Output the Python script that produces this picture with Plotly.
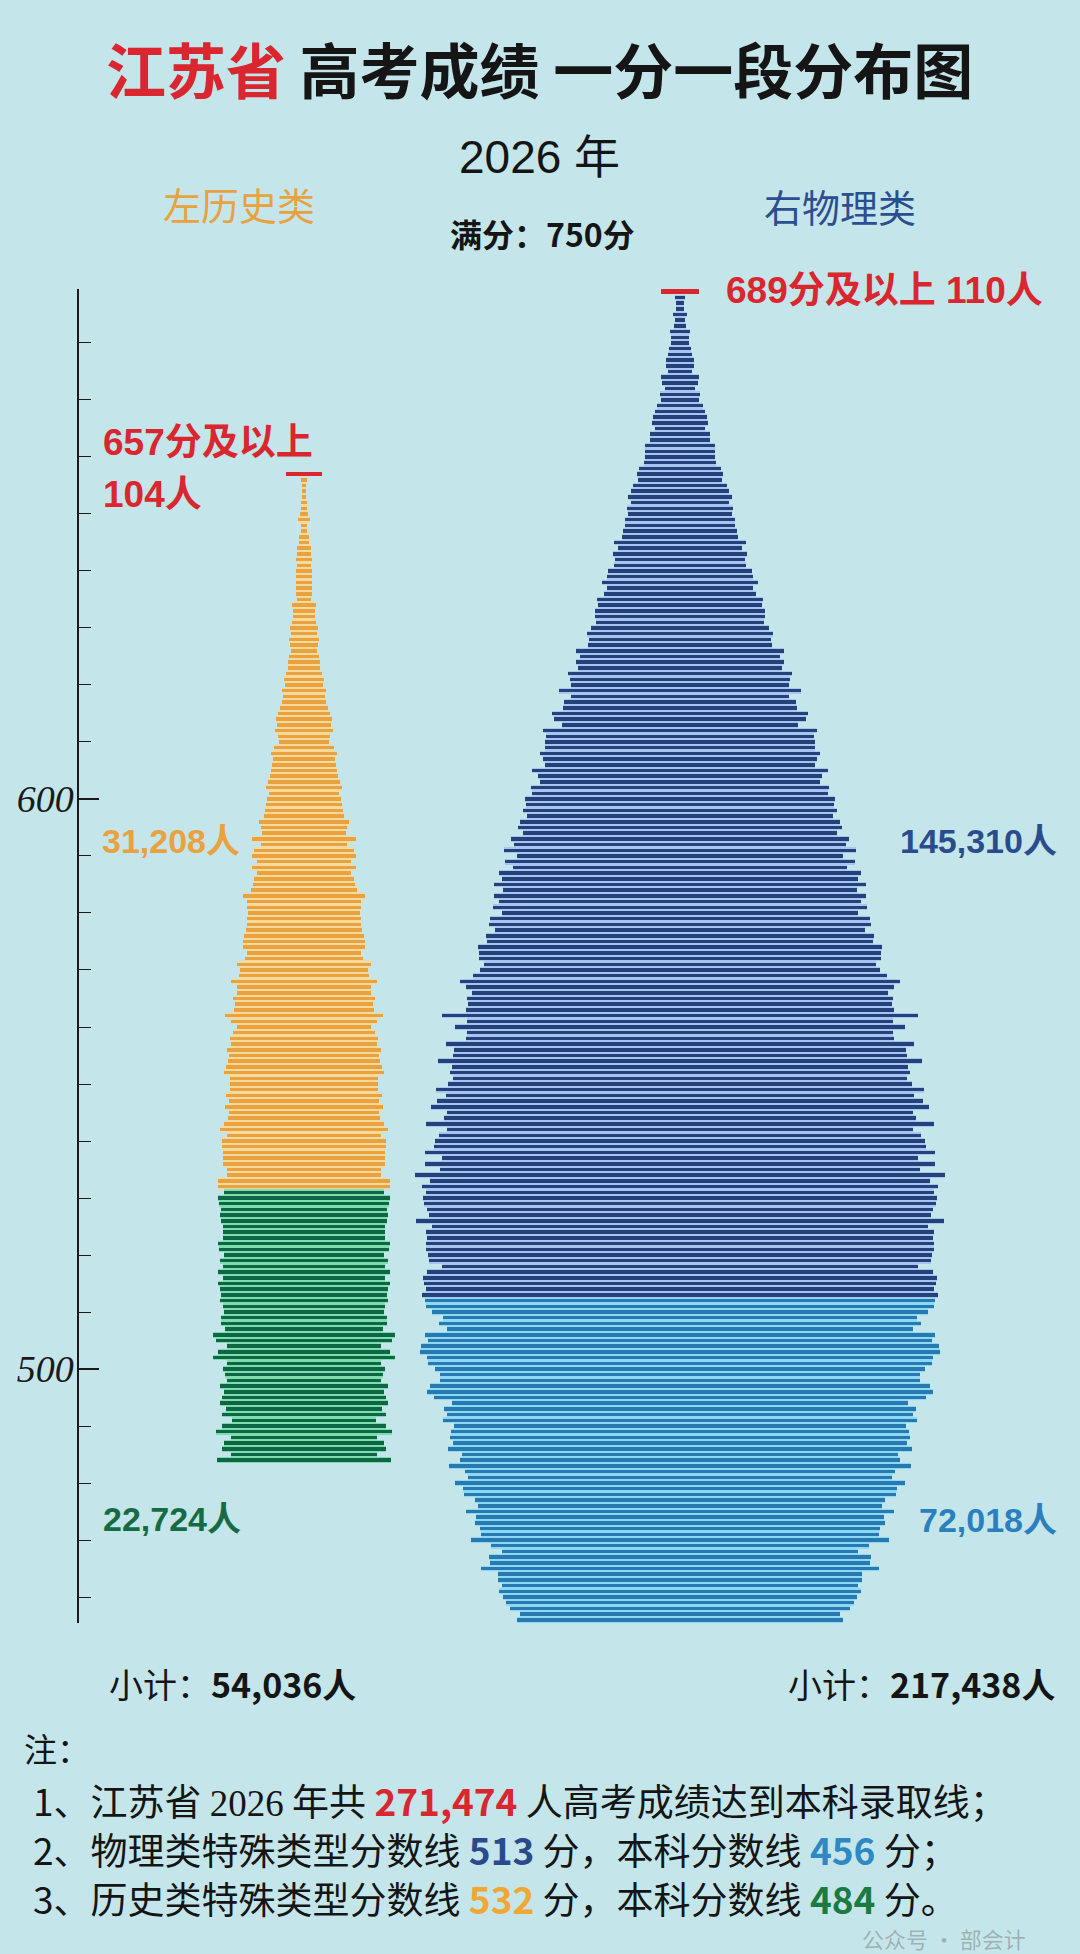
import plotly.graph_objects as go

# ---------------- data ----------------
# Physics track: 689分及以上 shown as red marker, bars from 688 down to 456
phys_top_score = 689
phys_top_count = 110
phys_high_scores = list(range(688, 512, -1))      # 688 .. 513  (dark blue, >= 特殊类型线 513)
phys_high_counts = [
    29, 21, 25, 39, 29, 33, 56, 54, 54, 62,
    68, 79, 83, 69, 112, 104, 85, 116, 112, 131,
    143, 154, 160, 146, 173, 175, 201, 204, 204, 210,
    239, 249, 243, 272, 281, 301, 283, 305, 302, 316,
    316, 328, 337, 383, 357, 386, 376, 380, 418, 422,
    449, 424, 438, 478, 474, 491, 491, 487, 516, 536,
    528, 530, 603, 580, 603, 591, 647, 638, 630, 701,
    632, 672, 676, 742, 727, 682, 794,
    775, 782, 782, 807, 792, 780, 854, 819, 809, 859,
    854, 896, 892, 909, 886, 925, 935, 906, 979, 958,
    1017, 940, 1013, 965, 1048, 1027, 1077, 1023, 1077, 1048,
    1081, 1027, 1096, 1104, 1071, 1121, 1116, 1166, 1162, 1162,
    1131, 1154, 1196, 1270, 1237, 1204, 1231, 1224, 1237, 1374,
    1233, 1299, 1233, 1237, 1354, 1305, 1310, 1399, 1320, 1329,
    1310, 1343, 1412, 1354, 1403, 1441, 1348, 1362, 1466, 1348,
    1393, 1418, 1422, 1476, 1376, 1476, 1387, 1530, 1447,
    1490, 1466, 1485, 1481, 1461, 1451, 1526, 1432, 1470, 1461,
    1470, 1470, 1457, 1451, 1374, 1461, 1485, 1481, 1466, 1490,
]
phys_low_scores = list(range(512, 455, -1))       # 512 .. 456  (light blue, 本科线 456)
phys_low_counts = [
    1476, 1470, 1435, 1368, 1393, 1348, 1476, 1457, 1495, 1505,
    1461, 1457, 1418, 1389, 1387, 1447, 1461, 1422, 1320, 1364,
    1348, 1370, 1306, 1324, 1328, 1310, 1343, 1262, 1270, 1333,
    1244, 1225, 1299, 1256, 1250, 1187, 1169, 1239, 1179, 1183,
    1158, 1148, 1208, 1091, 1027, 1106, 1096, 1152, 1052, 1054,
    1027, 1048, 1023, 1007, 983, 925, 944,
]

# History track: 657分及以上 shown as red marker, bars from 656 down to 484
hist_top_score = 657
hist_top_count = 104
hist_high_scores = list(range(656, 531, -1))      # 656 .. 532 (orange, >= 特殊类型线 532)
hist_high_counts = [
    15, 14, 12, 14, 17, 17, 21, 34, 20, 18,
    31, 31, 38, 39, 44, 42, 44, 46, 48, 48,
    45, 42, 70, 65, 66, 68, 82, 75, 85, 83,
    78, 86, 94, 92, 102, 114, 110, 127, 124, 127,
    139, 152, 159, 156, 170, 149, 144, 172, 191, 182,
    186, 191, 197, 207, 217, 204, 216, 221, 223, 233,
    260, 246, 244, 299, 246, 289, 299, 273, 300, 273,
    289, 295, 308, 353, 332, 327, 325, 331, 327, 337,
    347, 355, 353, 327, 339, 386, 372,
    378, 420, 387, 387, 409, 399, 403, 456, 424, 389,
    413, 426, 424, 444, 434, 439, 451, 460, 429, 425,
    429, 452, 436, 457, 434, 440, 463, 486, 444, 474,
    472, 471, 470, 470, 444, 444, 497, 496,
]
hist_low_scores = list(range(531, 483, -1))       # 531 .. 484 (green, 本科线 484)
hist_low_counts = [
    461, 499, 494, 479, 486, 482, 469, 471, 471, 499,
    494, 461, 486, 470, 498, 470, 499, 488, 482, 484,
    471, 461, 482, 480, 455, 528, 506, 444, 499, 528,
    447, 466, 457, 443, 485, 461, 473, 483, 452, 473,
    418, 473, 510, 424, 461, 476, 424, 503,
]

y_tick_vals = [500, 600]
y_tick_text = ["500", "600"]

# ---------------- layout constants ----------------
BG = "#C4E6EA"
W, H = 1080, 1954
ML, MR, MT, MB = 79, 0, 289, 331
PLOT_W = W - ML - MR
PLOT_H = H - MT - MB
Y_RANGE = [455.44, 689.47]
PX_PER_PERSON = 0.346
X_MAX = PLOT_W / PX_PER_PERSON
HIST_C = (304 - ML) / PX_PER_PERSON
PHYS_C = (680 - ML) / PX_PER_PERSON

CJK = "Noto Sans CJK SC"
NUM = "Liberation Sans, Noto Sans CJK SC"

C_RED = "#D9262F"
C_ORANGE = "#E8A240"
C_ORANGE_E = "#F8D99C"
C_GREEN = "#0F6642"
C_GREEN_E = "#7EDDAE"
C_DBLUE = "#23427A"
C_DBLUE_E = "#A9C4F0"
C_LBLUE = "#2879B0"
C_LBLUE_E = "#8DD8F5"

BAR_FRAC = 0.62   # coloured part of each one-point row; the rest shows the pale strip


def px(xpix):
    return (xpix - ML) / PLOT_W


def py(ypix):
    return (H - MB - ypix) / PLOT_H


def centered_bars(scores, counts, center, fill, width):
    return go.Bar(
        y=scores, x=counts, base=[center - c / 2 for c in counts],
        orientation="h", width=width,
        marker=dict(color=fill, line=dict(width=0)),
        showlegend=False, hoverinfo="skip",
    )


fig = go.Figure()
# pale strips (full row height) then coloured bars on top
for sc, ct, cen, edge in [
    (hist_high_scores, hist_high_counts, HIST_C, C_ORANGE_E),
    (hist_low_scores, hist_low_counts, HIST_C, C_GREEN_E),
    (phys_high_scores, phys_high_counts, PHYS_C, C_DBLUE_E),
    (phys_low_scores, phys_low_counts, PHYS_C, C_LBLUE_E),
]:
    fig.add_trace(centered_bars(sc, ct, cen, edge, 1.0))
for sc, ct, cen, fill in [
    (hist_high_scores, hist_high_counts, HIST_C, C_ORANGE),
    (hist_low_scores, hist_low_counts, HIST_C, C_GREEN),
    (phys_high_scores, phys_high_counts, PHYS_C, C_DBLUE),
    (phys_low_scores, phys_low_counts, PHYS_C, C_LBLUE),
]:
    fig.add_trace(centered_bars(sc, ct, cen, fill, BAR_FRAC))
fig.add_trace(centered_bars([hist_top_score], [hist_top_count], HIST_C, C_RED, 0.8))
fig.add_trace(centered_bars([phys_top_score], [phys_top_count], PHYS_C, C_RED, 0.8))


def ann(text, xpix, ypix, size, color, xanchor="left", family=CJK):
    return dict(text=text, x=px(xpix), y=py(ypix), xref="paper", yref="paper",
                xanchor=xanchor, yanchor="middle", showarrow=False,
                font=dict(family=family, size=size, color=color))


anns = [
    ann("<b><span style='color:%s'>江苏省</span> 高考成绩 一分一段分布图</b>" % C_RED,
        539, 68, 60, "#151515", "center"),
    ann("2026 年", 539, 157, 46, "#151515", "center", "Liberation Sans, Noto Sans CJK SC"),
    ann("左历史类", 239, 203, 38, C_ORANGE, "center"),
    ann("右物理类", 840, 205, 38, "#2D4E8E", "center"),
    ann("<b>满分：750分</b>", 542, 233, 32, "#151515", "center"),
    ann("<b>689分及以上 110人</b>", 724, 290, 37, C_RED, "left", NUM),
    ann("<b>657分及以上</b>", 101, 443, 37, C_RED, "left", NUM),
    ann("<b>104人</b>", 101, 494, 37, C_RED, "left", NUM),
    ann("<b>31,208人</b>", 100, 841, 34, C_ORANGE, "left", NUM),
    ann("<b>145,310人</b>", 1059, 841, 34, "#2B4C8C", "right", NUM),
    ann("<b>22,724人</b>", 101, 1519, 34, "#166B45", "left", NUM),
    ann("<b>72,018人</b>", 1059, 1520, 34, "#2A80BF", "right", NUM),
    ann("小计：<b>54,036人</b>", 107, 1683, 34, "#151515", "left"),
    ann("小计：<b>217,438人</b>", 1057, 1683, 34, "#151515", "right"),
    ann("注：", 22, 1748, 33, "#151515", "left"),
    ann("1、江苏省 <span style='font-family:Liberation Serif'>2026</span> 年共 "
        "<b><span style='color:%s'>271,474</span></b> 人高考成绩达到本科录取线；" % C_RED,
        31, 1800, 37, "#151515", "left"),
    ann("2、物理类特殊类型分数线 <b><span style='color:#2B4A8B'>513</span></b> 分，本科分数线 "
        "<b><span style='color:#2E88C4'>456</span></b> 分；",
        31, 1849, 37, "#151515", "left"),
    ann("3、历史类特殊类型分数线 <b><span style='color:#F0A733'>532</span></b> 分，本科分数线 "
        "<b><span style='color:#1A7A42'>484</span></b> 分。",
        31, 1898, 37, "#151515", "left"),
    ann("公众号 · 部会计", 860, 1938, 22, "rgba(110,110,110,0.45)", "left"),
]

fig.update_layout(
    width=W, height=H,
    margin=dict(l=ML, r=MR, t=MT, b=MB, pad=0),
    paper_bgcolor=BG, plot_bgcolor=BG,
    barmode="overlay", bargap=0,
    showlegend=False,
    xaxis=dict(range=[0, X_MAX], visible=False, fixedrange=True),
    yaxis=dict(
        range=Y_RANGE, showline=True, linecolor="#1a1a1a", linewidth=1.5,
        ticks="inside", ticklen=20, tickwidth=1.5, tickcolor="#1a1a1a",
        tickmode="array", tickvals=y_tick_vals, ticktext=y_tick_text,
        tickfont=dict(family="Liberation Serif", size=38, color="#1a1a1a", style="italic"),
        ticklabelstandoff=-4,
        showgrid=False, zeroline=False, fixedrange=True,
        minor=dict(dtick=10, tick0=0, ticks="inside", ticklen=12, tickwidth=1.2,
                   tickcolor="#1a1a1a", showgrid=False),
    ),
    annotations=anns,
)

fig.write_html("out.html")
